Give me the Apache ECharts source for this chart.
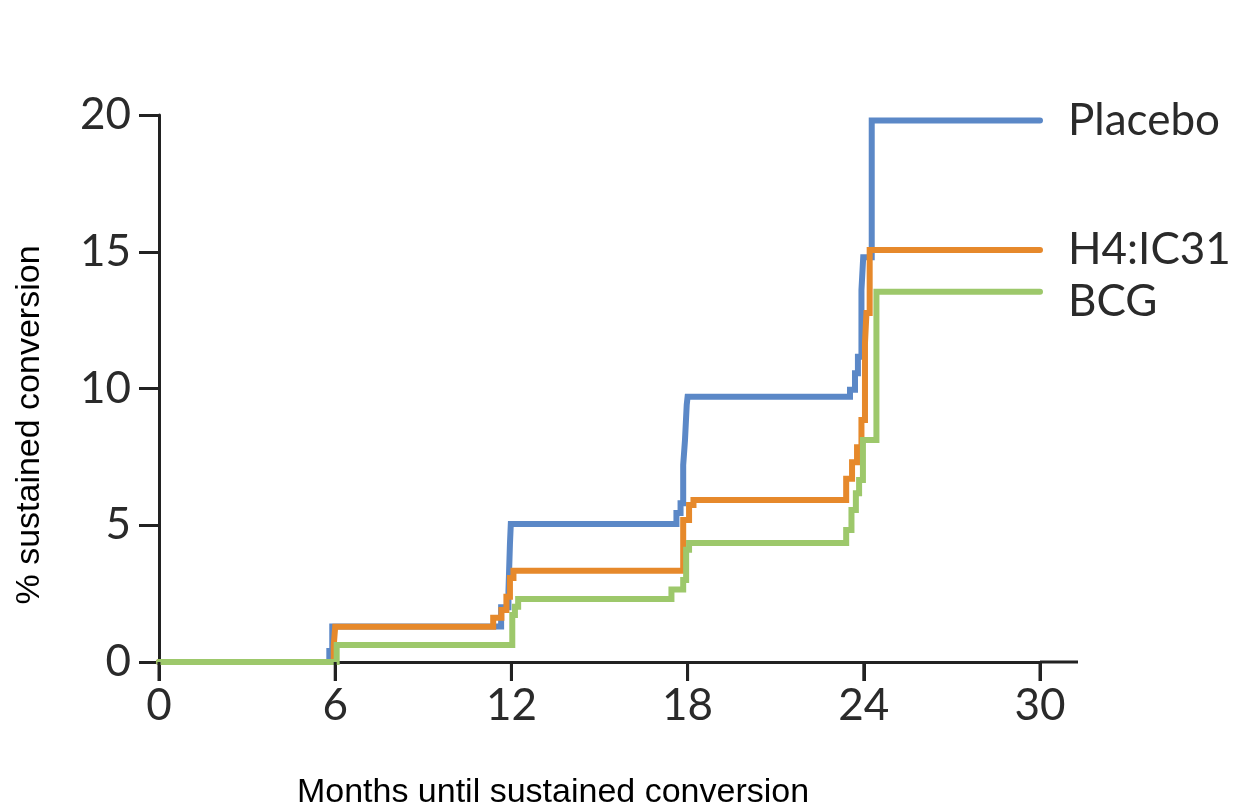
<!DOCTYPE html>
<html>
<head>
<meta charset="utf-8">
<script src="https://cdn.jsdelivr.net/npm/echarts@6/dist/echarts.min.js"></script>
<style>html,body{margin:0;padding:0;background:#fff}#c{width:1235px;height:809px}</style>
</head>
<body>
<div id="c"></div>
<script>
const seriesNames = ['Placebo', 'H4:IC31', 'BCG'];
const placebo = [[0,0],[5.8,0.4],[5.9,1.3],[11.65,2.0],[11.9,2.6],[11.95,4.3],[11.98,5.05],[17.62,5.45],[17.76,5.8],[17.85,7.2],[17.91,8.1],[17.97,9.4],[18.0,9.7],[23.53,9.95],[23.7,10.56],[23.8,11.16],[23.92,13.6],[23.98,14.8],[24.27,19.8],[30,19.8]];
const h4ic31 = [[0,0],[5.95,0.6],[6.0,1.29],[11.38,1.62],[11.66,1.9],[11.83,2.39],[11.95,3.07],[12.07,3.34],[17.85,5.19],[18.05,5.74],[18.2,5.92],[23.4,6.7],[23.6,7.3],[23.77,7.85],[23.92,8.85],[24.04,11.66],[24.09,12.76],[24.2,15.06],[30,15.06]];
const bcg = [[0,0],[6.05,0.62],[12.03,1.72],[12.12,2.02],[12.23,2.3],[17.45,2.65],[17.85,3.0],[17.95,4.1],[18.05,4.35],[23.4,4.83],[23.58,5.56],[23.73,6.17],[23.84,6.65],[23.97,8.12],[24.43,13.54],[30,13.54]];
const xTicks = [0, 6, 12, 18, 24, 30];
const yTicks = [0, 5, 10, 15, 20];
const colors = ['#5b88c7', '#e6892b', '#9dc86b'];
const xTitle = 'Months until sustained conversion';
const yTitle = '% sustained conversion';

const chart = echarts.init(document.getElementById('c'));
const tickFont = {fontFamily: 'Lato', fontSize: 44, color: '#2a2a2a'};
function mk(name, data, color, offset) {
  return {
    name: name, type: 'line', step: 'end', data: data, symbol: 'none',
    lineStyle: {color: color, width: 6, cap: 'round', join: 'miter'},
    itemStyle: {color: color},
    endLabel: {show: true, formatter: '{a}', distance: 28, offset: offset,
      fontFamily: 'Lato', fontSize: 44, color: '#2a2a2a'}
  };
}
const titleGraphics = [
  {type: 'text', x: 553, y: 793, style: {text: xTitle, x: 0, y: 0, align: 'center', verticalAlign: 'middle', font: '34px "Liberation Sans", Arial, sans-serif', fill: '#000'}},
  {type: 'text', x: 30, y: 425, rotation: Math.PI / 2, style: {text: yTitle, x: 0, y: 0, align: 'center', verticalAlign: 'middle', font: '34px "Liberation Sans", Arial, sans-serif', fill: '#000'}}
];
chart.setOption({
  animation: false,
  grid: {left: 159, right: 195, top: 115, bottom: 147},
  xAxis: {
    type: 'value', min: xTicks[0], max: xTicks[xTicks.length - 1], interval: 6,
    axisLine: {lineStyle: {color: '#222', width: 3},
      symbol: ['none', 'rect'], symbolSize: [3, 38], symbolOffset: [0, 19]},
    axisTick: {show: true, length: 19, lineStyle: {color: '#222', width: 3}},
    axisLabel: {margin: 22, ...tickFont},
    splitLine: {show: false}
  },
  yAxis: {
    type: 'value', min: yTicks[0], max: yTicks[yTicks.length - 1], interval: 5,
    axisLine: {show: true, lineStyle: {color: '#222', width: 3}},
    axisTick: {show: true, length: 20, lineStyle: {color: '#222', width: 3}},
    axisLabel: {margin: 28, ...tickFont},
    splitLine: {show: false}
  },
  graphic: titleGraphics,
  series: [
    mk(seriesNames[0], placebo, colors[0], [0, 0]),
    mk(seriesNames[1], h4ic31, colors[1], [0, 0]),
    mk(seriesNames[2], bcg, colors[2], [0, 10])
  ]
});
// x-axis tick marks placed through the chart's own scale
const tickGraphics = xTicks.map(function (v) {
  const p = chart.convertToPixel({gridIndex: 0}, [v, yTicks[0]]);
  return {type: 'line', z: 100, silent: true,
    shape: {x1: p[0], y1: p[1], x2: p[0], y2: p[1] + 19},
    style: {stroke: '#222', lineWidth: 3}};
});
chart.setOption({graphic: titleGraphics.concat(tickGraphics)});
</script>
</body>
</html>
